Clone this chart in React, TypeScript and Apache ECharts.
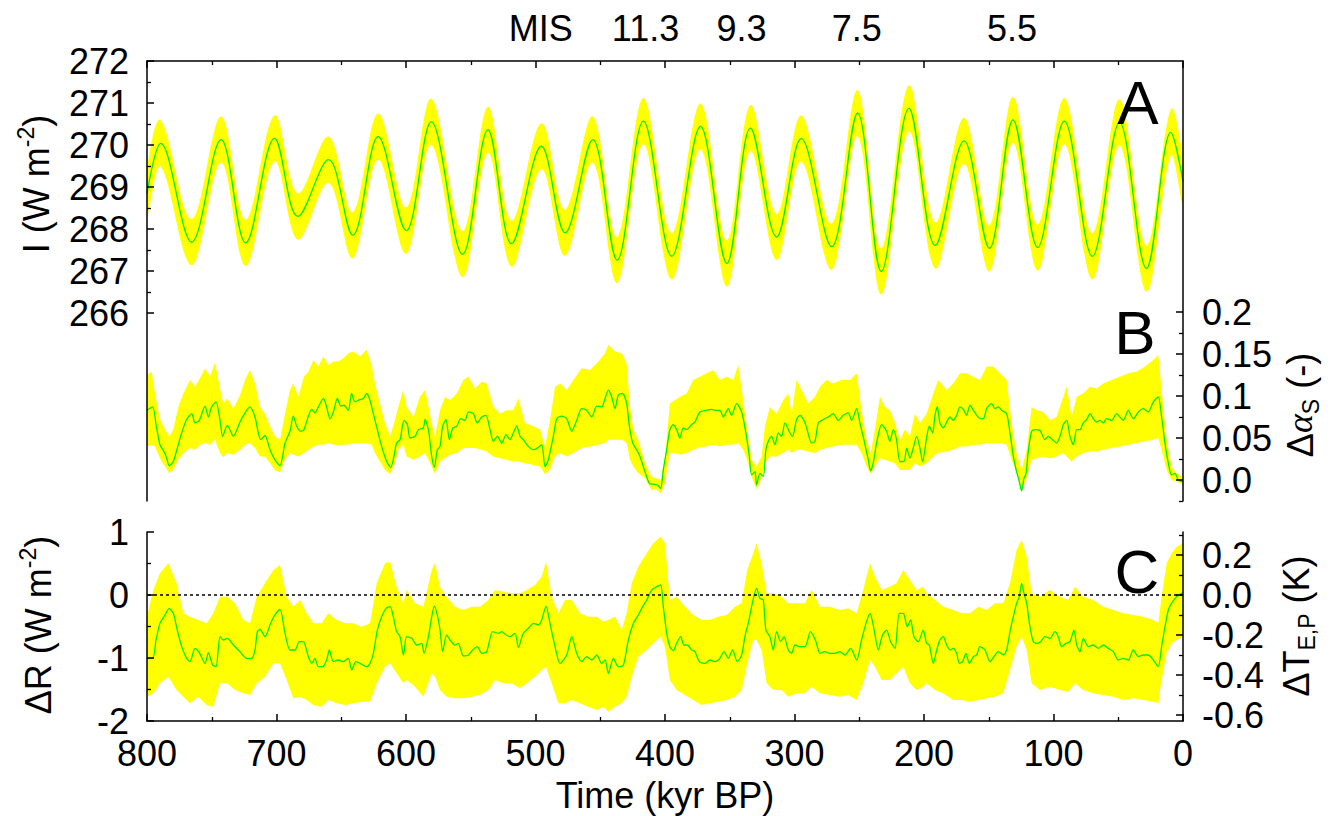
import React, { useEffect, useRef } from 'react';
import * as echarts from 'echarts';

// ---------- DATA ----------
// Panel A: mean insolation I (W m^-2) at extremes, [kyr BP, value]
const insolation: [number, number][] = [
  [800, 268.85], [789.4, 270.04], [765.5, 267.69], [742.8, 270.13], [723.8, 267.67], [701.5, 270.16],
  [683.5, 268.3], [659.8, 269.65], [641.1, 267.85], [621.5, 270.2], [599.8, 267.96], [580.5, 270.55],
  [556.3, 267.4], [536.7, 270.36], [518.5, 267.65], [495.4, 269.97], [477.2, 267.91], [455.8, 270.13],
  [437.0, 267.26], [416.7, 270.57], [394.8, 267.35], [372.6, 270.44], [352.2, 267.18], [334.0, 270.4],
  [313.8, 267.81], [294.8, 270.15], [271.3, 267.58], [251.3, 270.76], [233.0, 266.99], [211.6, 270.87],
  [191.3, 267.61], [169.1, 270.1], [149.5, 267.54], [131.3, 270.6], [112.2, 267.56], [91.6, 270.57],
  [70.0, 267.35], [49.0, 270.54], [28.2, 267.06], [9.4, 270.3], [0, 269.13],
];
// half width of the yellow uncertainty band of panel A (W m^-2)
const insolationHalfWidth = 0.55;

// Panel B: surface albedo change, [kyr BP, value]
const albedoMean: [number, number][] = [
  [800, 0.083], [795.6, 0.087], [793, 0.066], [790, 0.042], [786.9, 0.034], [784.8, 0.026], [782.8, 0.017], [779.7, 0.022],
  [776.6, 0.038], [773.2, 0.056], [769.4, 0.072], [765.5, 0.079], [762.9, 0.068], [759.6, 0.071], [755.2, 0.088], [752.6, 0.075],
  [750.1, 0.087], [746.7, 0.093], [743.6, 0.071], [741.6, 0.052], [738, 0.065], [733.3, 0.052], [728.2, 0.069], [724.3, 0.08],
  [720.5, 0.087], [716.6, 0.075], [714, 0.056], [712.2, 0.048], [708.9, 0.053], [705, 0.036], [701.2, 0.024], [697.3, 0.017],
  [693.4, 0.044], [689.6, 0.058], [687, 0.076], [684.4, 0.064], [681.3, 0.058], [678.8, 0.06], [675.4, 0.076], [672.8, 0.084],
  [670.3, 0.08], [667.7, 0.087], [663.8, 0.097], [661.3, 0.087], [658.7, 0.073], [656.1, 0.081], [653, 0.097], [650.4, 0.088],
  [647.9, 0.089], [644.5, 0.083], [642, 0.103], [639.4, 0.093], [635.5, 0.096], [632.9, 0.097], [630.4, 0.103], [627.8, 0.095],
  [625.2, 0.079], [622.1, 0.06], [618.8, 0.04], [614.9, 0.022], [611.8, 0.015], [609.3, 0.028], [607.2, 0.044], [604.6, 0.048],
  [601.5, 0.071], [598.9, 0.066], [596.9, 0.05], [593, 0.052], [590.4, 0.06], [586.6, 0.062], [585.3, 0.072], [582.7, 0.06],
  [580.1, 0.028], [578.1, 0.015], [575.8, 0.036], [573.7, 0.04], [571.7, 0.064], [569.1, 0.072], [566.5, 0.048], [563.9, 0.062],
  [560.8, 0.064], [557.8, 0.073], [554.4, 0.071], [551.8, 0.081], [548, 0.079], [544.9, 0.068], [541.5, 0.075], [538.2, 0.077],
  [535.1, 0.06], [532.5, 0.046], [529.4, 0.052], [526.1, 0.044], [522.7, 0.054], [519.7, 0.048], [517.1, 0.056], [514.5, 0.064],
  [511.9, 0.052], [509.4, 0.048], [505.5, 0.04], [501.6, 0.036], [498.6, 0.038], [495.2, 0.042], [492.6, 0.016], [490.1, 0.024],
  [486.2, 0.052], [483.6, 0.073], [479.8, 0.076], [475.9, 0.073], [472, 0.058], [468.2, 0.071], [464.3, 0.085], [460.5, 0.083],
  [456.6, 0.075], [452.7, 0.088], [448.9, 0.087], [447.1, 0.093], [443.7, 0.107], [441.2, 0.099], [438.6, 0.085], [436, 0.101],
  [432.7, 0.103], [429.6, 0.091], [427.5, 0.064], [424.9, 0.044], [421.9, 0.036], [419.3, 0.028], [415.9, 0.012], [412.1, -0.004],
  [409, -0.005], [405.9, -0.006], [403.3, -0.01], [401.3, 0.012], [398.7, 0.036], [396.2, 0.06], [393.6, 0.066], [391, 0.06],
  [388.5, 0.05], [385.9, 0.062], [383.3, 0.06], [379.4, 0.066], [376.9, 0.069], [373, 0.081], [367.9, 0.083], [364, 0.084],
  [361.4, 0.083], [357.6, 0.083], [355, 0.075], [351.1, 0.085], [348.6, 0.077], [344.7, 0.091], [340.8, 0.081], [337.5, 0.056],
  [334.9, 0.028], [333.1, 0.006], [330.5, 0.01], [329.3, -0.006], [326.7, 0.008], [324.1, 0.004], [322.1, 0.036], [320.2, 0.046],
  [317.7, 0.052], [315.1, 0.042], [312.5, 0.056], [309.9, 0.052], [307.4, 0.068], [303.5, 0.056], [301.5, 0.052], [298.4, 0.072],
  [295.8, 0.077], [292.7, 0.071], [290.6, 0.062], [286.8, 0.044], [284.2, 0.046], [281.6, 0.068], [277.8, 0.072], [273.9, 0.075],
  [270.1, 0.079], [266.2, 0.071], [262.3, 0.077], [258.5, 0.08], [255.9, 0.071], [252, 0.085], [249.5, 0.068], [246.4, 0.048],
  [243, 0.024], [241.2, 0.011], [239.2, 0.02], [236.6, 0.044], [232.7, 0.066], [228.9, 0.058], [226.3, 0.046], [223.7, 0.06],
  [221.2, 0.048], [218.6, 0.022], [215.5, 0.022], [213.4, 0.038], [210.9, 0.026], [208.3, 0.038], [205.7, 0.052], [203.1, 0.038],
  [201.1, 0.022], [198, 0.05], [195.9, 0.064], [193.3, 0.056], [191.5, 0.077], [189.7, 0.087], [187.7, 0.068], [185.1, 0.062],
  [182.5, 0.069], [179.9, 0.075], [177.4, 0.071], [174.8, 0.077], [172.2, 0.087], [169.6, 0.084], [167.1, 0.077], [164.5, 0.089],
  [161.9, 0.083], [159.3, 0.077], [156.8, 0.073], [154.2, 0.073], [151.6, 0.085], [147.8, 0.091], [145.2, 0.085], [142.6, 0.087],
  [140, 0.083], [136.2, 0.079], [133.6, 0.056], [131, 0.028], [128.5, 0.01], [126.7, 0], [124.6, -0.013], [122.8, 0.002],
  [121.2, 0.007], [119.5, 0.034], [116.9, 0.058], [114.3, 0.06], [110.4, 0.059], [106.6, 0.048], [104, 0.052], [100.7, 0.048],
  [97.6, 0.044], [95, 0.052], [92.4, 0.066], [89.8, 0.071], [87.3, 0.052], [84.7, 0.042], [82.1, 0.06], [79.5, 0.06],
  [77, 0.068], [74.4, 0.072], [71.8, 0.079], [69.3, 0.073], [66.7, 0.069], [64.1, 0.071], [61.5, 0.068], [59, 0.073],
  [55.1, 0.071], [51.2, 0.079], [48.7, 0.075], [46.1, 0.071], [42.2, 0.083], [38.4, 0.073], [34.5, 0.081], [30.7, 0.085],
  [26.8, 0.081], [22.9, 0.093], [19.1, 0.099], [16.5, 0.075], [13.9, 0.044], [11.3, 0.02], [8.8, 0.006], [6.2, 0.008],
  [3.6, 0], [0, -0.002],
];
// Panel B band: [kyr BP, lower, upper]
const albedoBand: [number, number, number][] = [
  [800, 0.04, 0.125], [796.4, 0.042, 0.129], [793.8, 0.04, 0.103], [790, 0.026, 0.073], [786.1, 0.016, 0.06], [782.8, 0.008, 0.052],
  [779.7, 0.012, 0.06], [775.8, 0.024, 0.087], [771.9, 0.032, 0.103], [766.8, 0.038, 0.119], [762.9, 0.036, 0.111], [759.1, 0.042, 0.121],
  [755.2, 0.044, 0.133], [751.3, 0.042, 0.123], [747.5, 0.048, 0.14], [743.6, 0.032, 0.109], [741.1, 0.027, 0.091], [738, 0.032, 0.097],
  [733.3, 0.03, 0.085], [728.2, 0.036, 0.101], [724.3, 0.042, 0.119], [720.5, 0.044, 0.131], [716.6, 0.038, 0.115], [712.7, 0.028, 0.087],
  [708.9, 0.028, 0.079], [705, 0.02, 0.064], [701.2, 0.012, 0.052], [697.3, 0.009, 0.048], [693.4, 0.024, 0.079], [689.6, 0.032, 0.107],
  [687, 0.03, 0.115], [683.1, 0.028, 0.099], [678.8, 0.032, 0.123], [675.4, 0.036, 0.129], [671.5, 0.04, 0.143], [667.7, 0.042, 0.135],
  [663.8, 0.042, 0.147], [660, 0.044, 0.137], [656.1, 0.042, 0.141], [652.3, 0.042, 0.141], [648.4, 0.042, 0.145], [644.5, 0.042, 0.151],
  [640.7, 0.044, 0.153], [635.5, 0.044, 0.147], [630.4, 0.044, 0.155], [626.5, 0.042, 0.137], [624, 0.032, 0.115], [620.1, 0.022, 0.091],
  [616.2, 0.012, 0.068], [612.3, 0.007, 0.052], [608.5, 0.02, 0.071], [605.9, 0.036, 0.087], [602.1, 0.042, 0.107], [599.5, 0.028, 0.087],
  [594.3, 0.024, 0.075], [589.2, 0.028, 0.099], [585.3, 0.032, 0.107], [580.1, 0.016, 0.068], [577.6, 0.007, 0.052], [573.7, 0.022, 0.083],
  [569.9, 0.026, 0.099], [566, 0.03, 0.095], [560.8, 0.032, 0.103], [555.7, 0.038, 0.119], [551.8, 0.038, 0.123], [546.7, 0.038, 0.109],
  [541.5, 0.036, 0.117], [537.7, 0.034, 0.115], [532.5, 0.028, 0.087], [527.4, 0.026, 0.079], [522.2, 0.024, 0.083], [517.1, 0.022, 0.083],
  [513.2, 0.022, 0.097], [508.1, 0.02, 0.068], [501.6, 0.018, 0.064], [496.5, 0.016, 0.06], [492.6, 0.007, 0.04], [488.8, 0.012, 0.071],
  [484.9, 0.028, 0.111], [481, 0.032, 0.115], [475.9, 0.028, 0.107], [470.8, 0.032, 0.119], [464.3, 0.038, 0.133], [457.9, 0.04, 0.131],
  [451.4, 0.042, 0.141], [446.3, 0.044, 0.151], [443.7, 0.048, 0.161], [438.6, 0.048, 0.153], [433.4, 0.048, 0.151], [429.6, 0.044, 0.139],
  [427, 0.024, 0.087], [424.4, 0.016, 0.06], [420.6, 0.008, 0.048], [415.4, 0.002, 0.02], [410.3, -0.012, 0.004], [406.4, -0.011, 0.002],
  [403.3, -0.016, 0], [400, -0.004, 0.028], [396.2, 0.032, 0.091], [392.3, 0.032, 0.095], [388.5, 0.03, 0.099], [383.3, 0.032, 0.103],
  [378.2, 0.036, 0.119], [373, 0.039, 0.123], [367.9, 0.04, 0.127], [362.7, 0.042, 0.131], [357.6, 0.04, 0.119], [352.4, 0.042, 0.123],
  [347.3, 0.042, 0.119], [343.4, 0.044, 0.137], [339.6, 0.036, 0.095], [336.5, 0.024, 0.06], [333.1, 0.004, 0.024], [329.3, -0.011, 0.016],
  [325.4, 0.002, 0.028], [322.8, 0.02, 0.064], [319, 0.028, 0.087], [313.8, 0.028, 0.079], [308.7, 0.032, 0.095], [304.8, 0.036, 0.103],
  [302.2, 0.032, 0.079], [298.4, 0.036, 0.119], [294.5, 0.036, 0.107], [289.4, 0.034, 0.091], [284.2, 0.032, 0.099], [280.3, 0.036, 0.111],
  [275.2, 0.038, 0.119], [270.1, 0.04, 0.115], [263.6, 0.042, 0.119], [257.2, 0.042, 0.119], [252, 0.042, 0.127], [248.2, 0.032, 0.083],
  [244.3, 0.016, 0.048], [241.2, 0.007, 0.032], [237.9, 0.016, 0.06], [234, 0.026, 0.099], [230.2, 0.024, 0.087], [226.3, 0.022, 0.083],
  [222.4, 0.02, 0.068], [218.6, 0.012, 0.048], [214.7, 0.012, 0.06], [210.9, 0.012, 0.052], [207, 0.02, 0.079], [203.1, 0.016, 0.068],
  [198, 0.02, 0.079], [192.8, 0.028, 0.103], [189, 0.032, 0.119], [182.5, 0.034, 0.107], [177.4, 0.036, 0.115], [172.2, 0.04, 0.127],
  [167.1, 0.04, 0.127], [161.9, 0.042, 0.123], [156.8, 0.042, 0.119], [151.6, 0.044, 0.135], [146.5, 0.044, 0.135], [141.3, 0.044, 0.127],
  [136.2, 0.042, 0.119], [132.3, 0.024, 0.068], [128.5, 0.008, 0.032], [124.6, -0.014, 0.012], [120.7, 0.002, 0.036], [116.9, 0.024, 0.087],
  [113, 0.026, 0.083], [107.9, 0.028, 0.081], [102.7, 0.026, 0.071], [97.6, 0.028, 0.075], [92.4, 0.032, 0.099], [89.8, 0.028, 0.111],
  [86, 0.022, 0.075], [82.1, 0.028, 0.099], [77, 0.032, 0.103], [71.8, 0.034, 0.111], [66.7, 0.034, 0.109], [61.5, 0.036, 0.115],
  [55.1, 0.038, 0.119], [48.7, 0.04, 0.123], [42.2, 0.042, 0.127], [35.8, 0.044, 0.129], [29.3, 0.046, 0.135], [22.9, 0.048, 0.143],
  [19.1, 0.05, 0.149], [16.5, 0.036, 0.107], [12.6, 0.012, 0.048], [8.8, 0, 0.016], [4.9, -0.002, 0.008], [0, -0.005, 0.004],
];

// Panel C: radiative forcing change dR (W m^-2), [kyr BP, value]
const forcingMean: [number, number][] = [
  [800, -1.005], [795.6, -1.005], [793, -0.714], [790, -0.45], [786.9, -0.344], [782.8, -0.217], [779.7, -0.291], [776.6, -0.556],
  [773.2, -0.82], [769.4, -1.005], [766.8, -1.058], [762.9, -0.847], [759.6, -0.915], [755.2, -1.085], [752.6, -0.915], [749.3, -1.111],
  [746.7, -1.138], [743.6, -0.661], [741.1, -0.714], [738, -0.688], [733.3, -0.794], [728.2, -0.899], [723, -1.005], [719.2, -1.005],
  [716.6, -0.873], [714.8, -0.582], [712.7, -0.545], [708.9, -0.661], [704.5, -0.45], [701.2, -0.317], [697.3, -0.228], [693.4, -0.608],
  [689.6, -0.873], [685.7, -0.873], [682.4, -0.741], [679.3, -0.741], [675.4, -0.979], [672.8, -1.085], [670.3, -1.005], [667.7, -1.138],
  [664.3, -1.138], [661.3, -1.032], [659.2, -0.873], [656.1, -1.058], [652.3, -1.032], [648.4, -1.058], [644.5, -1.005], [642, -1.19],
  [638.6, -1.058], [635.5, -1.085], [630.4, -1.138], [627.8, -1.085], [625.2, -0.926], [622.1, -0.556], [618.8, -0.344], [615.4, -0.212],
  [612.3, -0.185], [609.8, -0.344], [607.2, -0.582], [604.6, -0.661], [602, -0.952], [599.5, -0.661], [595.6, -0.688], [591.7, -0.794],
  [587.9, -0.767], [586.1, -0.926], [582.7, -0.661], [580.1, -0.344], [578.1, -0.175], [575.8, -0.317], [573.7, -0.556], [571.7, -0.899],
  [568.6, -0.635], [566, -0.714], [562.1, -0.794], [559.6, -0.767], [555.7, -0.968], [551.8, -0.952], [548.5, -0.873], [544.9, -0.82],
  [541.5, -0.926], [537.7, -0.899], [533, -0.582], [528.7, -0.608], [526.1, -0.582], [522.7, -0.635], [519.7, -0.661], [515.8, -0.608],
  [513.2, -0.831], [509.4, -0.608], [505.5, -0.529], [501.6, -0.45], [497.8, -0.476], [495.2, -0.397], [491.9, -0.175], [488.8, -0.45],
  [484.9, -0.82], [481, -1.085], [475.9, -0.952], [472, -0.661], [468.2, -0.926], [464.3, -1.058], [460.5, -0.979], [456.6, -1.032],
  [452.7, -0.952], [448.9, -1.085], [446.3, -1.032], [443.7, -1.243], [439.9, -1.005], [436, -1.138], [432.1, -1.111], [428.3, -0.714],
  [424.4, -0.45], [420.6, -0.317], [417.2, -0.185], [414.1, -0.079], [410.3, 0.079], [406.4, 0.132], [403.3, 0.159], [401.3, -0.185],
  [398.7, -0.6], [396.2, -0.82], [393.6, -0.884], [391, -0.767], [387.9, -0.661], [385.4, -0.794], [382.8, -0.794], [379.4, -0.873],
  [376.9, -0.899], [373.5, -1.058], [369.2, -1.085], [365.3, -1.032], [361.4, -1.058], [357.6, -1.005], [354.5, -0.899], [351.1, -1.005],
  [347.8, -0.873], [344.2, -1.058], [340.8, -0.952], [338.3, -0.661], [335.7, -0.45], [332.3, -0.106], [329.3, 0.106], [326.7, -0.053],
  [324.1, -0.079], [322.1, -0.556], [319, -0.661], [316.4, -0.873], [313.8, -0.582], [310.7, -0.741], [308.1, -0.661], [304.8, -0.873],
  [302.2, -0.926], [299.6, -0.794], [295.8, -0.82], [291.9, -0.82], [287.6, -0.582], [283.4, -0.741], [280.3, -0.926], [276.5, -0.899],
  [272.6, -0.926], [268.8, -0.926], [264.9, -0.899], [261, -0.952], [256.7, -0.847], [252, -1.032], [248.2, -0.714], [244.8, -0.45],
  [241.7, -0.291], [238.7, -0.529], [235.3, -0.873], [232, -0.635], [228.9, -0.556], [225.8, -0.741], [222.4, -0.847], [219.1, -0.291],
  [216, -0.291], [212.9, -0.503], [210.3, -0.397], [207.8, -0.661], [204.4, -0.741], [200.6, -0.556], [198, -0.767], [195.9, -0.794],
  [192.8, -1.085], [190.2, -0.873], [187.7, -0.714], [185.1, -0.661], [182.5, -0.794], [179.9, -0.873], [177.4, -0.847], [174.8, -0.926],
  [172.7, -1.085], [170.2, -1.058], [167.6, -0.926], [165, -1.085], [161.9, -0.979], [159.3, -0.952], [156.8, -0.82], [152.9, -0.873],
  [149, -1.058], [146, -0.979], [142.6, -0.899], [138.8, -0.952], [136.2, -0.873], [133.6, -0.582], [131, -0.344], [128.5, -0.132],
  [126.4, -0.026], [124.6, 0.185], [122.8, 0.026], [120.7, -0.132], [118.2, -0.503], [115.6, -0.741], [113, -0.767], [109.9, -0.741],
  [106.6, -0.661], [102.7, -0.688], [98.9, -0.582], [96.3, -0.661], [93.7, -0.82], [90.4, -0.767], [87.3, -0.741], [84.2, -0.556],
  [82.1, -0.794], [79.5, -0.899], [77, -0.688], [73.1, -0.82], [69.3, -0.794], [65.4, -0.847], [61.5, -0.794], [57.7, -0.847],
  [53.8, -0.899], [49.9, -1.032], [46.1, -1.005], [42.2, -1.032], [38.4, -0.873], [34.5, -0.979], [30.7, -0.952], [26.8, -0.952],
  [22.9, -1.032], [19.1, -1.138], [16.5, -0.82], [13.9, -0.503], [11.3, -0.238], [8, -0.106], [4.9, -0.026], [0, 0.037],
];
// Panel C band: [kyr BP, lower, upper]
const forcingBand: [number, number, number][] = [
  [800, -1.614, -0.344], [795.1, -1.561, 0.079], [790, -1.402, 0.344], [783.5, -1.296, 0.503], [777.1, -1.508, 0.185], [771.9, -1.614, -0.291],
  [766.8, -1.72, -0.344], [760.4, -1.614, -0.397], [753.9, -1.746, -0.45], [748.8, -1.772, -0.291], [743.6, -1.402, -0.026], [738, -1.402, -0.026],
  [732, -1.508, -0.132], [725.6, -1.561, -0.397], [720.5, -1.587, -0.45], [715.3, -1.402, -0.026], [708.9, -1.296, 0.185], [702.4, -1.085, 0.397],
  [697.3, -1.085, 0.476], [692.1, -1.349, -0.026], [687, -1.64, -0.185], [681.8, -1.614, -0.079], [676.7, -1.667, -0.291], [671.5, -1.746, -0.45],
  [665.1, -1.772, -0.45], [660, -1.667, -0.291], [653.5, -1.72, -0.397], [647.1, -1.746, -0.45], [640.7, -1.72, -0.45], [634.2, -1.693, -0.503],
  [627.8, -1.693, -0.45], [622.6, -1.402, 0.185], [616.2, -1.138, 0.503], [612.3, -1.085, 0.529], [607.2, -1.243, 0.132], [602.1, -1.402, -0.132],
  [599.5, -1.349, 0.079], [593, -1.455, -0.132], [586.6, -1.614, -0.185], [580.1, -1.243, 0.397], [577.6, -1.296, 0.503], [573.7, -1.508, 0.132],
  [568.6, -1.614, -0.026], [562.1, -1.64, -0.185], [555.7, -1.64, -0.238], [549.3, -1.614, -0.185], [542.8, -1.587, -0.185], [536.4, -1.508, -0.079],
  [531.2, -1.349, 0.079], [524.8, -1.402, 0.053], [518.4, -1.402, 0.026], [511.9, -1.481, 0.026], [506.8, -1.402, 0.079], [500.4, -1.296, 0.159],
  [495.2, -1.19, 0.291], [491.9, -1.138, 0.529], [487.5, -1.402, -0.026], [482.3, -1.72, -0.291], [477.2, -1.72, -0.079], [472, -1.667, -0.079],
  [465.6, -1.72, -0.291], [459.2, -1.772, -0.344], [452.7, -1.825, -0.344], [447.6, -1.772, -0.423], [443.7, -1.852, -0.397], [438.6, -1.772, -0.344],
  [433.4, -1.72, -0.556], [429.6, -1.614, -0.291], [425.7, -1.296, 0.185], [420.6, -0.979, 0.45], [414.1, -0.873, 0.661], [409, -0.767, 0.82],
  [403.3, -0.661, 0.926], [400, -0.82, 0.82], [396.2, -1.349, -0.079], [391, -1.508, -0.026], [384.6, -1.587, -0.185], [378.2, -1.667, -0.317],
  [371.7, -1.746, -0.397], [365.3, -1.72, -0.397], [358.9, -1.693, -0.344], [352.4, -1.667, -0.317], [346, -1.614, -0.185], [340.8, -1.508, -0.132],
  [336.5, -1.085, 0.397], [331.8, -0.714, 0.661], [329.3, -0.714, 0.82], [325.4, -0.873, 0.503], [321.5, -1.402, 0.026], [316.4, -1.508, 0.026],
  [309.9, -1.508, -0.026], [304.8, -1.614, -0.132], [298.4, -1.561, -0.132], [291.9, -1.561, -0.132], [286.8, -1.455, 0.079], [280.3, -1.561, -0.185],
  [272.6, -1.587, -0.185], [264.9, -1.614, -0.238], [258.5, -1.587, -0.212], [252, -1.667, -0.291], [246.9, -1.402, 0.079], [241.7, -1.032, 0.503],
  [237.9, -1.138, 0.291], [232.7, -1.349, 0.079], [226.3, -1.349, 0.132], [221.2, -1.243, 0.185], [216, -1.138, 0.397], [210.9, -1.402, 0.238],
  [205.7, -1.508, 0.079], [200.6, -1.455, 0.132], [198, -1.402, 0.026], [191.5, -1.508, -0.079], [185.1, -1.561, -0.185], [177.4, -1.667, -0.238],
  [170.9, -1.667, -0.291], [164.5, -1.693, -0.291], [158.1, -1.667, -0.185], [151.6, -1.64, -0.238], [145.2, -1.614, -0.132], [138.8, -1.561, -0.132],
  [133.6, -1.19, 0.185], [128.5, -0.82, 0.714], [124.6, -0.661, 0.873], [120.7, -0.873, 0.608], [116.9, -1.402, 0.026], [110.4, -1.508, -0.026],
  [102.7, -1.455, 0.079], [95, -1.508, -0.026], [88.6, -1.534, -0.079], [83.4, -1.402, 0.132], [77, -1.508, -0.026], [69.3, -1.561, -0.079],
  [61.5, -1.587, -0.185], [53.8, -1.614, -0.238], [46.1, -1.667, -0.291], [38.4, -1.64, -0.317], [30.7, -1.667, -0.344], [22.9, -1.693, -0.397],
  [19.1, -1.72, -0.45], [16.5, -1.349, -0.026], [12.6, -0.926, 0.503], [8.8, -0.767, 0.661], [4.9, -0.714, 0.767], [0, -0.661, 0.82],
];

// Tick values / labels
const misLabels: [number, string][] = [[496, 'MIS'], [415, '11.3'], [341, '9.3'], [252, '7.5'], [132, '5.5']];
const insolationTicks = [266, 267, 268, 269, 270, 271, 272];
const insolationMinorTicks = [266.5, 267.5, 268.5, 269.5, 270.5, 271.5];
const albedoTicks = [0, 0.05, 0.1, 0.15, 0.2];
const albedoMinorTicks = [-0.025, 0.025, 0.075, 0.125, 0.175];
const tempTicks = [-0.6, -0.4, -0.2, 0, 0.2];
const tempMinorTicks = [-0.5, -0.3, -0.1, 0.1, 0.3];
const tempPerForcing = 0.315; // K per W m^-2 (right axis of panel C)

// ---------- STYLE ----------
const FONT = "'Liberation Sans', Arial, Helvetica, sans-serif";
const YELLOW = '#ffff00';
const GREEN = '#00ee00';
const BLACK = '#000000';
const LABEL_SIZE = 36;

const axisLineStyle = { show: true, onZero: false, lineStyle: { color: BLACK, width: 1.5 } };
const majorTick = { show: true, inside: true, length: 7, lineStyle: { color: BLACK, width: 1.5 } };
const minorTickStyle = { show: true, inside: true, length: 4, lineStyle: { color: BLACK, width: 1.3 } };
const labelStyle = { color: BLACK, fontSize: LABEL_SIZE, fontFamily: FONT };

function bandSeries(band: [number, number, number][], xAxisIndex: number, yAxisIndex: number, smooth: number) {
  return {
    type: 'custom',
    coordinateSystem: 'cartesian2d',
    xAxisIndex,
    yAxisIndex,
    clip: true,
    silent: true,
    z: 1,
    data: band,
    encode: { x: 0, y: [1, 2] },
    renderItem: (params: any, api: any) => {
      if (params.dataIndex !== 0) return null;
      const upper = band.map((p) => api.coord([p[0], p[2]]));
      const lower = band.map((p) => api.coord([p[0], p[1]])).reverse();
      return {
        type: 'polygon',
        shape: { points: upper.concat(lower), smooth },
        style: { fill: YELLOW, stroke: null },
      };
    },
  };
}

function lineSeries(data: [number, number][], xAxisIndex: number, yAxisIndex: number, smooth: number, extra: any = {}) {
  return {
    type: 'line',
    xAxisIndex,
    yAxisIndex,
    data,
    smooth,
    symbol: 'none',
    showSymbol: false,
    silent: true,
    z: 3,
    lineStyle: { color: GREEN, width: 1.3 },
    ...extra,
  };
}

const insolationBand: [number, number, number][] = insolation.map((p) => [p[0], p[1] - insolationHalfWidth, p[1] + insolationHalfWidth]);

const richTitle = {
  n: { fontSize: LABEL_SIZE, fontFamily: FONT, color: BLACK, lineHeight: 44 },
  g: { fontSize: LABEL_SIZE, fontFamily: "'Liberation Serif', 'DejaVu Serif', serif", fontStyle: 'italic', color: BLACK, lineHeight: 44 },
  sup: { fontSize: 23, fontFamily: FONT, color: BLACK, lineHeight: 26, verticalAlign: 'top' },
  sub: { fontSize: 23, fontFamily: FONT, color: BLACK, lineHeight: 26, verticalAlign: 'bottom' },
};

function rotatedTitle(text: string, x: number, y: number) {
  return {
    type: 'text',
    x,
    y,
    rotation: Math.PI / 2,
    z: 100,
    style: { text, rich: richTitle, align: 'center', verticalAlign: 'middle', fill: BLACK },
  };
}

function panelLetter(text: string, x: number, y: number) {
  return {
    type: 'text',
    x,
    y,
    z: 100,
    style: { text, fontSize: 62, fontFamily: FONT, fill: BLACK, align: 'center', verticalAlign: 'middle' },
  };
}

export default function App() {
  const ref = useRef<HTMLDivElement>(null);

  useEffect(() => {
    document.body.style.margin = '0';
    if (!ref.current) return;
    const chart = echarts.init(ref.current, undefined, { renderer: 'svg' });

    const option: any = {
      animation: false,
      backgroundColor: '#ffffff',
      grid: [
        { left: 147, top: 61, width: 1036, height: 440 },
        { left: 147, top: 61, width: 1036, height: 440 },
        { left: 147, top: 532, width: 1036, height: 189 },
      ],
      xAxis: [
        {
          gridIndex: 0, type: 'value', position: 'top', min: 0, max: 800, interval: 100, inverse: true, z: 5,
          axisLine: axisLineStyle, axisTick: majorTick,
          minorTick: { ...minorTickStyle, splitNumber: 2 },
          splitLine: { show: false }, minorSplitLine: { show: false },
          axisLabel: {
            ...labelStyle, margin: 15,
            customValues: misLabels.map((m) => m[0]),
            formatter: (v: number) => {
              const f = misLabels.find((m) => Math.abs(m[0] - v) < 1e-6);
              return f ? f[1] : '';
            },
          },
        },
        { gridIndex: 1, type: 'value', min: 0, max: 800, inverse: true, show: false },
        {
          gridIndex: 2, type: 'value', position: 'bottom', min: 0, max: 800, interval: 100, inverse: true, z: 5,
          axisLine: axisLineStyle, axisTick: majorTick,
          minorTick: { ...minorTickStyle, splitNumber: 2 },
          splitLine: { show: false },
          axisLabel: { ...labelStyle, margin: 14 },
          name: 'Time (kyr BP)', nameLocation: 'middle', nameGap: 56,
          nameTextStyle: { color: BLACK, fontSize: LABEL_SIZE, fontFamily: FONT },
        },
      ],
      yAxis: [
        // 0: panel A left
        {
          gridIndex: 0, type: 'value', position: 'left', min: 272 - 440 / 42, max: 272, z: 5,
          axisLine: axisLineStyle,
          axisTick: { ...majorTick, customValues: insolationTicks },
          axisLabel: { ...labelStyle, margin: 18, customValues: insolationTicks },
          splitLine: { show: false },
        },
        // 1: panel A left minor ticks
        {
          gridIndex: 0, type: 'value', position: 'left', min: 272 - 440 / 42, max: 272, z: 5,
          axisLine: { show: false, onZero: false },
          axisTick: { ...minorTickStyle, customValues: insolationMinorTicks },
          axisLabel: { show: false }, splitLine: { show: false },
        },
        // 2: panel B right
        {
          gridIndex: 1, type: 'value', position: 'right', min: -0.025, max: -0.025 + 440 / 840, z: 5,
          axisLine: axisLineStyle,
          axisTick: { ...majorTick, customValues: albedoTicks },
          axisLabel: {
            ...labelStyle, margin: 19, customValues: albedoTicks,
            formatter: (v: number) => (v === 0 ? '0.0' : String(v)),
          },
          splitLine: { show: false },
        },
        // 3: panel B right minor ticks
        {
          gridIndex: 1, type: 'value', position: 'right', min: -0.025, max: -0.025 + 440 / 840, z: 5,
          axisLine: { show: false, onZero: false },
          axisTick: { ...minorTickStyle, customValues: albedoMinorTicks },
          axisLabel: { show: false }, splitLine: { show: false },
        },
        // 4: panel C left
        {
          gridIndex: 2, type: 'value', position: 'left', min: -2, max: 1, interval: 1, z: 5,
          axisLine: axisLineStyle, axisTick: majorTick,
          minorTick: { ...minorTickStyle, splitNumber: 2 },
          axisLabel: { ...labelStyle, margin: 18 },
          splitLine: { show: false }, minorSplitLine: { show: false },
        },
        // 5: panel C right (temperature)
        {
          gridIndex: 2, type: 'value', position: 'right', min: -2 * tempPerForcing, max: 1 * tempPerForcing, z: 5,
          axisLine: axisLineStyle,
          axisTick: { ...majorTick, customValues: tempTicks },
          axisLabel: {
            ...labelStyle, margin: 19, customValues: tempTicks,
            formatter: (v: number) => v.toFixed(1),
          },
          splitLine: { show: false },
        },
        // 6: panel C right minor ticks
        {
          gridIndex: 2, type: 'value', position: 'right', min: -2 * tempPerForcing, max: 1 * tempPerForcing, z: 5,
          axisLine: { show: false, onZero: false },
          axisTick: { ...minorTickStyle, customValues: tempMinorTicks },
          axisLabel: { show: false }, splitLine: { show: false },
        },
      ],
      series: [
        bandSeries(insolationBand, 0, 0, 0.36),
        lineSeries(insolation, 0, 0, 0.36),
        bandSeries(albedoBand, 1, 2, 0),
        lineSeries(albedoMean, 1, 2, 0.25),
        bandSeries(forcingBand, 2, 4, 0),
        lineSeries(forcingMean, 2, 4, 0.25, {
          markLine: {
            silent: true,
            symbol: ['none', 'none'],
            label: { show: false },
            lineStyle: { color: BLACK, type: [3, 3], width: 1.5 },
            data: [{ yAxis: 0 }],
          },
        }),
      ],
      graphic: [
        panelLetter('A', 1138, 102),
        panelLetter('B', 1135, 332),
        panelLetter('C', 1137, 571),
        rotatedTitle('{n|I (W m}{sup|-2}{n|)}', 36, 184),
        rotatedTitle('{n|ΔR (W m}{sup|-2}{n|)}', 38, 625),
        rotatedTitle('{n|Δ}{g|α}{sub|S}{n| (-)}', 1300, 405),
        rotatedTitle('{n|ΔT}{sub|E,P}{n| (K)}', 1296, 626),
      ],
    };

    chart.setOption(option);
    return () => chart.dispose();
  }, []);

  return <div ref={ref} style={{ width: 1337, height: 816 }} />;
}
